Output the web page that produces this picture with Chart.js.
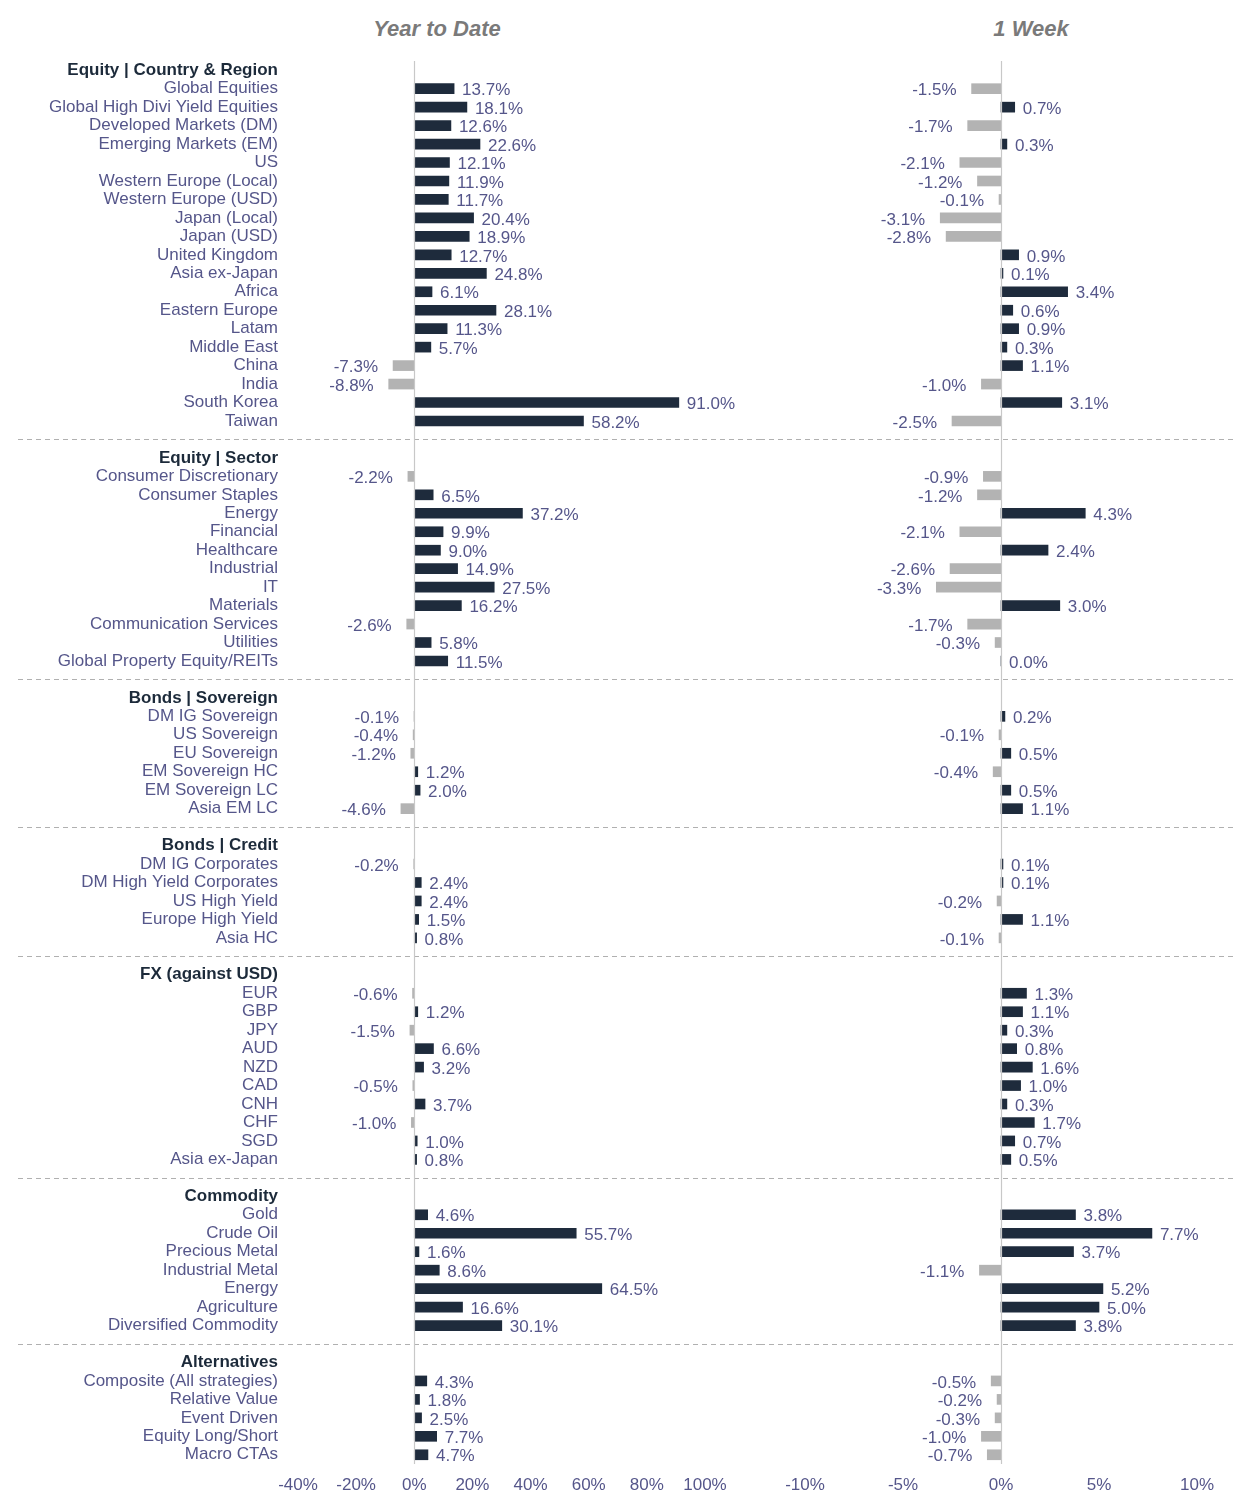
<!DOCTYPE html>
<html>
<head>
<meta charset="utf-8">
<script src="https://cdn.jsdelivr.net/npm/chart.js@4"></script>
<style>
  body { margin: 0; background: #fff; width: 1256px; height: 1510px; position: relative; overflow: hidden; }
  .title { position: absolute; top: 16px; font: italic bold 22px "Liberation Sans", Arial, sans-serif; color: #7a7a7a; transform: translateX(-50%); }
  canvas { position: absolute; top: 0; }
</style>
</head>
<body>
<div class="title" style="left:437px">Year to Date</div>
<div class="title" style="left:1031px">1 Week</div>
<canvas id="ytdChart" style="left:0" width="760" height="1510"></canvas>
<canvas id="weekChart" style="left:760px" width="496" height="1510"></canvas>
<script>
const headers = ['Equity | Country & Region', 'Equity | Sector', 'Bonds | Sovereign', 'Bonds | Credit', 'FX (against USD)', 'Commodity', 'Alternatives'];
const items = [
  ['Global Equities', 'Global High Divi Yield Equities', 'Developed Markets (DM)', 'Emerging Markets (EM)', 'US', 'Western Europe (Local)', 'Western Europe (USD)', 'Japan (Local)', 'Japan (USD)', 'United Kingdom', 'Asia ex-Japan', 'Africa', 'Eastern Europe', 'Latam', 'Middle East', 'China', 'India', 'South Korea', 'Taiwan'],
  ['Consumer Discretionary', 'Consumer Staples', 'Energy', 'Financial', 'Healthcare', 'Industrial', 'IT', 'Materials', 'Communication Services', 'Utilities', 'Global Property Equity/REITs'],
  ['DM IG Sovereign', 'US Sovereign', 'EU Sovereign', 'EM Sovereign HC', 'EM Sovereign LC', 'Asia EM LC'],
  ['DM IG Corporates', 'DM High Yield Corporates', 'US High Yield', 'Europe High Yield', 'Asia HC'],
  ['EUR', 'GBP', 'JPY', 'AUD', 'NZD', 'CAD', 'CNH', 'CHF', 'SGD', 'Asia ex-Japan'],
  ['Gold', 'Crude Oil', 'Precious Metal', 'Industrial Metal', 'Energy', 'Agriculture', 'Diversified Commodity'],
  ['Composite (All strategies)', 'Relative Value', 'Event Driven', 'Equity Long/Short', 'Macro CTAs']
];
const ytdValues = [
  [13.7, 18.1, 12.6, 22.6, 12.1, 11.9, 11.7, 20.4, 18.9, 12.7, 24.8, 6.1, 28.1, 11.3, 5.7, -7.3, -8.8, 91.0, 58.2],
  [-2.2, 6.5, 37.2, 9.9, 9.0, 14.9, 27.5, 16.2, -2.6, 5.8, 11.5],
  [-0.1, -0.4, -1.2, 1.2, 2.0, -4.6],
  [-0.2, 2.4, 2.4, 1.5, 0.8],
  [-0.6, 1.2, -1.5, 6.6, 3.2, -0.5, 3.7, -1.0, 1.0, 0.8],
  [4.6, 55.7, 1.6, 8.6, 64.5, 16.6, 30.1],
  [4.3, 1.8, 2.5, 7.7, 4.7]
];
const weekValues = [
  [-1.5, 0.7, -1.7, 0.3, -2.1, -1.2, -0.1, -3.1, -2.8, 0.9, 0.1, 3.4, 0.6, 0.9, 0.3, 1.1, -1.0, 3.1, -2.5],
  [-0.9, -1.2, 4.3, -2.1, 2.4, -2.6, -3.3, 3.0, -1.7, -0.3, 0.0],
  [0.2, -0.1, 0.5, -0.4, 0.5, 1.1],
  [0.1, 0.1, -0.2, 1.1, -0.1],
  [1.3, 1.1, 0.3, 0.8, 1.6, 1.0, 0.3, 1.7, 0.7, 0.5],
  [3.8, 7.7, 3.7, -1.1, 5.2, 5.0, 3.8],
  [-0.5, -0.2, -0.3, -1.0, -0.7]
];

// flatten sections into rows: header, items, spacer
const labels = [], kinds = [], ytd = [], week = [];
headers.forEach((h, s) => {
  if (s > 0) { labels.push(''); kinds.push('sep'); ytd.push(null); week.push(null); }
  labels.push(h); kinds.push('head'); ytd.push(null); week.push(null);
  items[s].forEach((c, i) => {
    labels.push(c); kinds.push('item'); ytd.push(ytdValues[s][i]); week.push(weekValues[s][i]);
  });
});

const FONT = '"Liberation Sans", Arial, sans-serif';
const POS = '#1e2b3c', NEG = '#b3b3b3', TXT = '#55568a';

const overlay = {
  id: 'overlay',
  afterDatasetsDraw(chart, args, opts) {
    const { ctx, chartArea } = chart;
    const x = chart.scales.x, y = chart.scales.y;
    ctx.save();
    // dashed separators
    ctx.strokeStyle = '#b0b0b0'; ctx.lineWidth = 1.2; ctx.setLineDash([5, 4]);
    kinds.forEach((k, i) => {
      if (k !== 'sep') return;
      const py = Math.round(y.getPixelForValue(i)) + 0.5;
      ctx.beginPath(); ctx.moveTo(opts.lineFrom, py); ctx.lineTo(opts.lineTo, py); ctx.stroke();
    });
    // zero line
    ctx.setLineDash([]); ctx.strokeStyle = '#c8c8c8';
    const zx = Math.round(x.getPixelForValue(0)) + 0.5;
    ctx.beginPath(); ctx.moveTo(zx, chartArea.top); ctx.lineTo(zx, chartArea.bottom); ctx.stroke();
    // value labels
    ctx.font = '17px ' + FONT; ctx.fillStyle = TXT; ctx.textBaseline = 'middle';
    const meta = chart.getDatasetMeta(0);
    chart.data.datasets[0].data.forEach((v, i) => {
      if (v === null) return;
      const bar = meta.data[i];
      const t = v.toFixed(1) + '%';
      if (v >= 0) { ctx.textAlign = 'left'; ctx.fillText(t, bar.x + 8, bar.y + 2); }
      else { ctx.textAlign = 'right'; ctx.fillText(t, bar.x - 15, bar.y + 2); }
    });
    ctx.restore();
  }
};

function makeChart(id, data, min, max, step, showLabels, padLeft, padRight, lineFrom, lineTo) {
  return new Chart(document.getElementById(id), {
    type: 'bar',
    data: {
      labels: labels,
      datasets: [{
        data: data,
        backgroundColor: data.map(v => v < 0 ? NEG : POS),
        barThickness: 10
      }]
    },
    options: {
      indexAxis: 'y',
      responsive: false,
      animation: false,
      layout: { padding: { top: 61, left: padLeft, right: padRight, bottom: 0 } },
      plugins: { legend: { display: false }, tooltip: { enabled: false }, overlay: { lineFrom, lineTo } },
      scales: {
        x: {
          min: min, max: max,
          grid: { display: false }, border: { display: false },
          ticks: { stepSize: step, maxRotation: 0, color: TXT, font: { size: 17, family: FONT }, callback: v => v + '%' },
          afterFit: s => { s.height = 46; }
        },
        y: {
          display: showLabels,
          grid: { display: false }, border: { display: false },
          ticks: {
            autoSkip: false, padding: 12,
            color: c => kinds[c.index] === 'head' ? '#1c2a3a' : TXT,
            font: c => ({ size: 17, family: FONT, weight: kinds[c.index] === 'head' ? 'bold' : 'normal' })
          },
          afterFit: s => { s.width = showLabels ? 298 : 0; }
        }
      }
    },
    plugins: [overlay]
  });
}

makeChart('ytdChart', ytd, -40, 100, 20, true, 0, 55, 18, 760);
makeChart('weekChart', week, -10, 10, 5, false, 45, 59, 0, 477);
</script>
</body>
</html>
